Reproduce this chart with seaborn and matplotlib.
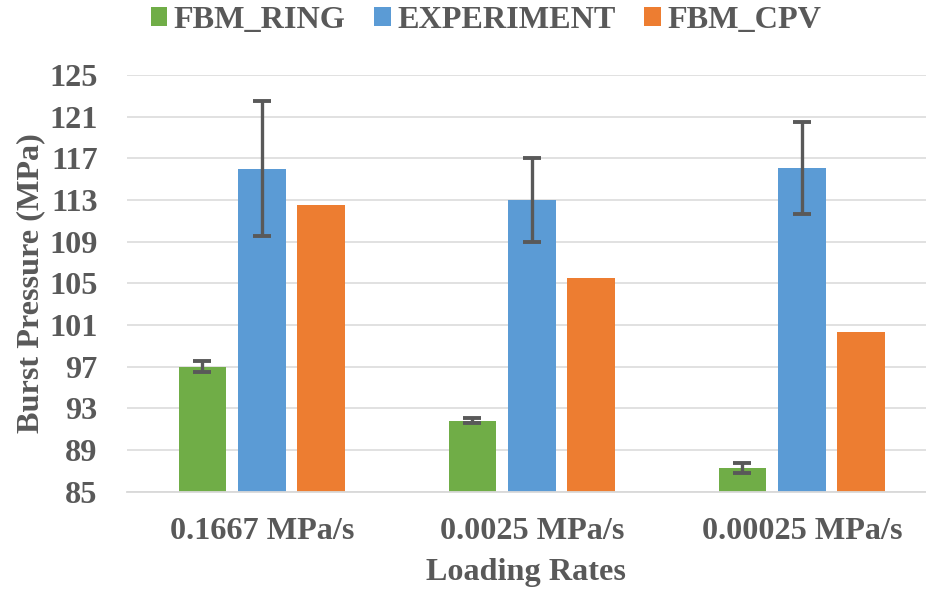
import matplotlib
matplotlib.use("Agg")
import matplotlib.pyplot as plt
import seaborn as sns
import pandas as pd
import numpy as np

categories = ["0.1667 MPa/s", "0.0025 MPa/s", "0.00025 MPa/s"]
series = ["FBM_RING", "EXPERIMENT", "FBM_CPV"]
fbm_ring = [97.0, 91.8, 87.25]
experiment = [116.0, 113.0, 116.05]
fbm_cpv = [112.5, 105.55, 100.3]
fbm_ring_err = [0.5, 0.25, 0.5]
experiment_err = [6.5, 4.0, 4.4]
yticks = [85, 89, 93, 97, 101, 105, 109, 113, 117, 121, 125]

colors = ["#70AD47", "#5B9BD5", "#ED7D31"]
text_color = "#595959"
grid_color = "#D9D9D9"
FS = 23.2

sns.set_theme(style="white")
plt.rcParams["font.family"] = ["Liberation Serif", "DejaVu Serif"]
plt.rcParams["font.weight"] = "bold"

df = pd.DataFrame({
    "Loading Rates": categories * 3,
    "Series": [s for s in series for _ in categories],
    "Value": fbm_ring + experiment + fbm_cpv,
})

fig = plt.figure(figsize=(9.26, 5.92), dpi=100)
ax = fig.add_axes([0.137, 0.1694, 0.863, 0.7039])

sns.barplot(data=df, x="Loading Rates", y="Value", hue="Series",
            hue_order=series, palette=colors, width=0.66, gap=0.2,
            errorbar=None, saturation=1, linewidth=0, ax=ax, zorder=2)

# error bars at bar centers taken from the drawn bars
err_map = {0: fbm_ring_err, 1: experiment_err}
for ci, errs in err_map.items():
    cont = ax.containers[ci]
    xs = [p.get_x() + p.get_width() / 2 for p in cont.patches]
    ys = [p.get_height() + p.get_y() for p in cont.patches]
    ax.errorbar(xs, ys, yerr=errs, fmt="none", ecolor="#595959",
                elinewidth=2.4, capsize=6.5, capthick=2.8, zorder=3)

ax.set_ylim(85, 125)
ax.set_xlim(-0.5, 2.46)
ax.set_yticks(yticks)
ax.set_yticklabels([str(t) for t in yticks])
ax.yaxis.grid(True, color=grid_color, linewidth=1.1, zorder=0)
ax.set_axisbelow(True)
for s in ["top", "right", "left"]:
    ax.spines[s].set_visible(False)
ax.spines["bottom"].set_color(grid_color)
ax.spines["bottom"].set_linewidth(1.3)
ax.tick_params(axis="both", length=0, labelsize=FS, colors=text_color)
ax.tick_params(axis="y", pad=21)
ax.tick_params(axis="x", pad=18)
for lab in ax.get_xticklabels() + ax.get_yticklabels():
    lab.set_fontweight("bold")

ax.set_ylabel("Burst Pressure (MPa)", fontsize=FS, fontweight="bold",
              color=text_color, labelpad=3)
ax.set_xlabel("Loading Rates", fontsize=FS, fontweight="bold",
              color=text_color, labelpad=9)

sns.move_legend(ax, "upper center", bbox_to_anchor=(0.525, 1.012),
                bbox_transform=fig.transFigure, ncol=3, frameon=False,
                title=None, fontsize=FS, handlelength=0.5, handleheight=0.5,
                handletextpad=0.21, columnspacing=0.89, borderaxespad=0.0)
for t in ax.get_legend().get_texts():
    t.set_color(text_color)
    t.set_fontweight("bold")

fig.savefig("out.png", dpi=100)
